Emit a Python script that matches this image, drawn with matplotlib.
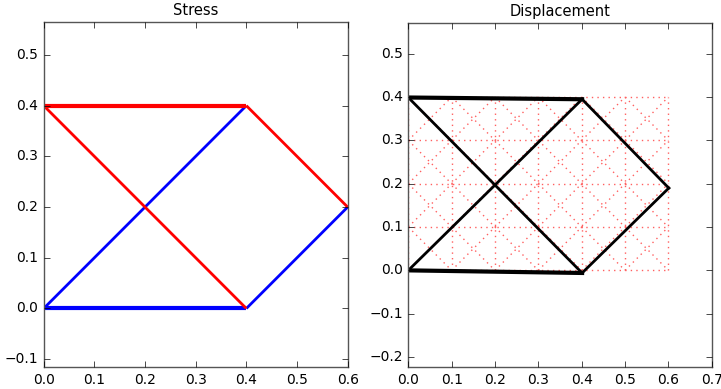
import matplotlib
matplotlib.use("Agg")
import matplotlib.pyplot as plt

# estilo clasico (ticks hacia dentro, en los cuatro lados)
plt.style.use('classic')

# --- Malla original (nodos cada 0.1) ---
mesh_x = [0.0, 0.1, 0.2, 0.3, 0.4, 0.5, 0.6]
mesh_y = [0.0, 0.1, 0.2, 0.3, 0.4]

# --- Nodos de la cercha principal ---
nodes_x = [0.0, 0.4, 0.6, 0.4, 0.0]
nodes_y = [0.0, 0.0, 0.2, 0.4, 0.4]

# --- Nodos deformados (desplazamiento) ---
def_x = [0.0, 0.401, 0.601, 0.401, 0.0]
def_y = [0.0, -0.006, 0.19, 0.395, 0.399]

# miembros (pares de nodos) y color segun signo del esfuerzo
members = [(0, 1), (0, 3), (1, 2), (4, 3), (4, 1), (3, 2)]
member_colors = ['b', 'b', 'b', 'r', 'r', 'r']
# barras horizontales superior/inferior se ven mas gruesas
member_lw = [3.0, 2.0, 2.0, 3.0, 2.0, 2.0]

fig = plt.figure(figsize=(7.21, 3.89), dpi=100, facecolor='white')
ax1 = fig.add_axes([0.0606, 0.0558, 0.4216, 0.8877])
ax2 = fig.add_axes([0.5663, 0.0566, 0.4208, 0.8854])

# ---------------- Stress ----------------
for (i, j), c, lw in zip(members, member_colors, member_lw):
    ax1.plot([nodes_x[i], nodes_x[j]], [nodes_y[i], nodes_y[j]], color=c, lw=lw,
             solid_capstyle='butt')
ax1.set_xlim(0, 0.6)
ax1.set_ylim(-0.116, 0.565)
ax1.set_xticks([0.0, 0.1, 0.2, 0.3, 0.4, 0.5, 0.6])
ax1.set_yticks([-0.1, 0.0, 0.1, 0.2, 0.3, 0.4, 0.5])
ax1.set_title('Stress', fontsize=10.5)

# ---------------- Displacement ----------------
grid_style = dict(color='#ff6060', ls=':', lw=1.0)
for y in mesh_y:
    ax2.plot([mesh_x[0], mesh_x[-1]], [y, y], **grid_style)
for x in mesh_x:
    ax2.plot([x, x], [mesh_y[0], mesh_y[-1]], **grid_style)
for k in range(len(mesh_x) - 1):
    for m in range(len(mesh_y) - 1):
        x0, x1 = mesh_x[k], mesh_x[k + 1]
        y0, y1 = mesh_y[m], mesh_y[m + 1]
        ax2.plot([x0, x1], [y0, y1], **grid_style)
        ax2.plot([x0, x1], [y1, y0], **grid_style)

for (i, j), lw in zip(members, member_lw):
    ax2.plot([def_x[i], def_x[j]], [def_y[i], def_y[j]], color='k', lw=lw)
ax2.set_xlim(0, 0.7)
ax2.set_ylim(-0.223, 0.572)
ax2.set_xticks([0.0, 0.1, 0.2, 0.3, 0.4, 0.5, 0.6, 0.7])
ax2.set_yticks([-0.2, -0.1, 0.0, 0.1, 0.2, 0.3, 0.4, 0.5])
ax2.set_title('Displacement', fontsize=10.5)

for ax in (ax1, ax2):
    ax.tick_params(labelsize=10)
    for s in ax.spines.values():
        s.set_color('#555555')

fig.savefig('out.png', dpi=100, facecolor='white')
